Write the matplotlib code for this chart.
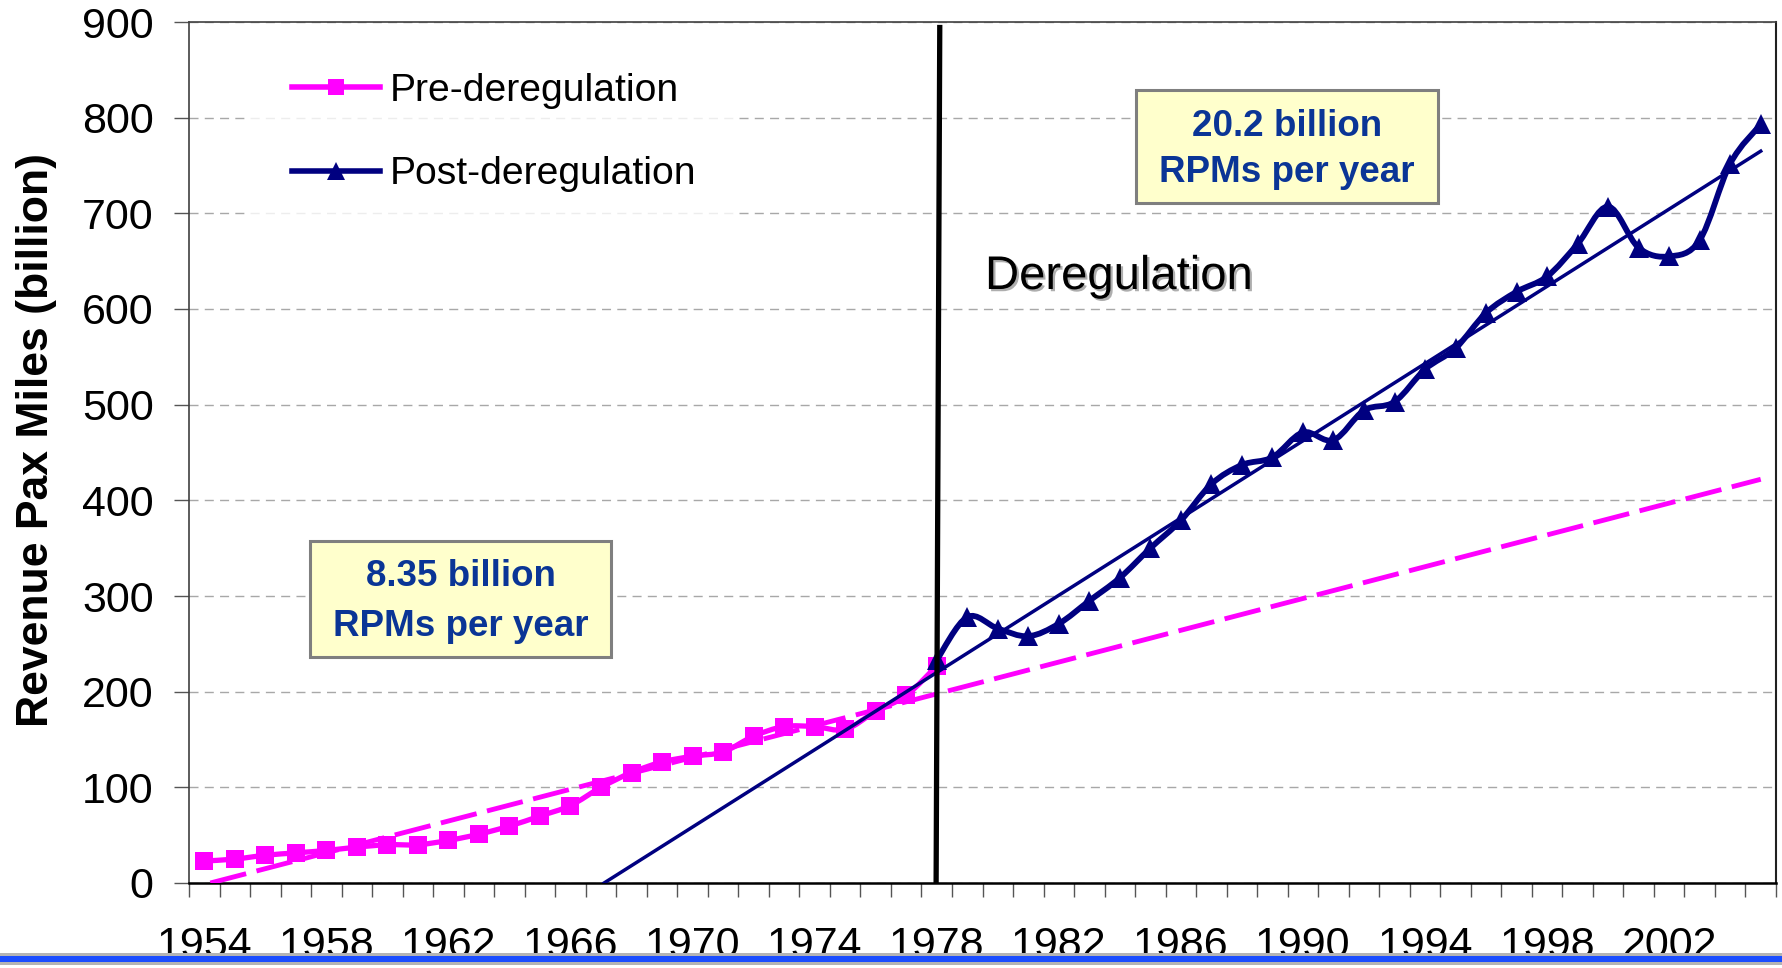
import matplotlib
matplotlib.use("Agg")
import matplotlib.pyplot as plt
import matplotlib.patheffects as pe
import numpy as np
from matplotlib.lines import Line2D
from matplotlib.patches import PathPatch, Rectangle
from matplotlib.path import Path

plt.rcParams["font.family"] = ["Liberation Sans", "DejaVu Sans"]

# --- data (billions of revenue passenger miles) ---
pre_years = [1954, 1955, 1956, 1957, 1958, 1959, 1960, 1961, 1962, 1963, 1964,
             1965, 1966, 1967, 1968, 1969, 1970, 1971, 1972, 1973, 1974, 1975,
             1976, 1977, 1978]
pre_rpm = [23, 25, 29, 31.5, 34, 37.5, 40, 40, 44.5, 51, 59.5,
           70, 81, 100, 115.5, 126.5, 132.5, 137, 153.5, 163.5, 163.5, 160.5,
           179.5, 196, 227]

post_years = [1978, 1979, 1980, 1981, 1982, 1983, 1984, 1985, 1986, 1987,
              1988, 1989, 1990, 1991, 1992, 1993, 1994, 1995, 1996, 1997,
              1998, 1999, 2000, 2001, 2002, 2003, 2004, 2005]
post_rpm = [233, 278, 266, 258, 271, 295, 319, 350, 379, 417,
            437, 445, 471, 463, 494, 503, 537, 559, 596, 618,
            634, 668, 707, 664, 655, 672, 752, 793]

# linear trend lines (end points)
pre_trend_x = [1954.2, 2005]
pre_trend_y = [0, 422]
post_trend_x = [1967.1, 2005]
post_trend_y = [0, 765]

dereg_x = [1977.98, 1978.1]
dereg_y = [0, 897]

year_labels = [1954, 1958, 1962, 1966, 1970, 1974, 1978, 1982, 1986, 1990,
               1994, 1998, 2002]
y_ticks = [0, 100, 200, 300, 400, 500, 600, 700, 800, 900]

PINK = "#ff00ff"
NAVY = "#000080"
BOX_TEXT = "#0a3596"

W, H = 1783, 968


def fx(x):
    return x / W


def fy(y):
    return 1 - y / H


def smooth_path(xs, ys):
    # Catmull-Rom style bezier through the points (like a spreadsheet "smoothed line")
    pts = np.column_stack([xs, ys]).astype(float)
    ext = np.vstack([pts[0], pts, pts[-1]])
    verts = [pts[0]]
    codes = [Path.MOVETO]
    for i in range(len(pts) - 1):
        p0, p1, p2, p3 = ext[i], ext[i + 1], ext[i + 2], ext[i + 3]
        verts += [p1 + (p2 - p0) / 6, p2 - (p3 - p1) / 6, p2]
        codes += [Path.CURVE4] * 3
    return Path(verts, codes)


fig = plt.figure(figsize=(W / 100, H / 100), dpi=100)
ax = fig.add_axes([fx(189), fy(883), 1587 / W, 861 / H])

ax.set_xlim(1953.5, 2005.5)
ax.set_ylim(0, 900)

# gridlines
ax.set_yticks(y_ticks)
ax.yaxis.grid(True, color="#a8a8a8", linewidth=1.0, linestyle=(0, (6.5, 4.5)))
ax.set_axisbelow(True)

# pre-deregulation series
ax.add_patch(PathPatch(smooth_path(pre_years, pre_rpm), facecolor="none",
                       edgecolor=PINK, lw=3.8, capstyle="round", joinstyle="round", zorder=3))
ax.plot(pre_years, pre_rpm, linestyle="none", marker="s", ms=13, color=PINK,
        markeredgewidth=0, zorder=3)
ax.plot(pre_trend_x, pre_trend_y, color=PINK, lw=3.5, linestyle=(0, (7.6, 2.2)), zorder=3)

# post-deregulation series
ax.plot(post_trend_x, post_trend_y, color=NAVY, lw=2.5, zorder=4)
ax.add_patch(PathPatch(smooth_path(post_years, post_rpm), facecolor="none",
                       edgecolor=NAVY, lw=4.2, capstyle="round", joinstyle="round", zorder=4))
ax.plot(post_years, post_rpm, linestyle="none", marker="^", ms=14.5, color=NAVY,
        markeredgewidth=0, zorder=4)

# deregulation marker line
ax.plot(dereg_x, dereg_y, color="black", lw=3.8, zorder=5, solid_capstyle="butt")

# axes styling
for side in ["left", "top"]:
    ax.spines[side].set_color("#404040")
    ax.spines[side].set_linewidth(1.2)
ax.spines["right"].set_color("#202020")
ax.spines["right"].set_linewidth(1.5)
ax.spines["bottom"].set_color("black")
ax.spines["bottom"].set_linewidth(1.8)

ax.set_xticks(np.arange(1953.5, 2006, 1.0))
ax.set_xticklabels([])
ax.set_xticks(year_labels, minor=True)
ax.set_xticklabels([str(y) for y in year_labels], minor=True)
ax.tick_params(axis="x", which="major", direction="out", length=10, width=1.0, color="#555555")
ax.tick_params(axis="x", which="minor", length=0, pad=31, labelsize=31)
ax.tick_params(axis="y", direction="out", length=10.5, width=1.0, color="#555555",
               pad=15, labelsize=31)

ax.set_ylabel("Revenue Pax Miles (billion)", fontsize=32, fontweight="bold")
ax.yaxis.set_label_coords((57 - 189) / 1587, (883 - 440) / 861)

# legend
handles = [
    Line2D([], [], color=PINK, lw=4.0, marker="s", ms=12, markeredgewidth=0),
    Line2D([], [], color=NAVY, lw=4.0, marker="^", ms=13, markeredgewidth=0),
]
leg = ax.legend(handles, ["Pre-deregulation", "Post-deregulation"],
                loc="upper left", bbox_to_anchor=(fx(250), fy(31)),
                bbox_transform=fig.transFigure, borderaxespad=0,
                fontsize=28.2, handlelength=2.25, handletextpad=0.26,
                labelspacing=1.21, borderpad=1.07, frameon=True,
                fancybox=False, numpoints=1)
leg.get_frame().set_facecolor("white")
leg.get_frame().set_edgecolor("none")
leg.set_zorder(6)

# text annotations
ax.text(fx(985), fy(277), "Deregulation", transform=fig.transFigure, fontsize=34,
        ha="left", va="center", color="black", zorder=6,
        path_effects=[pe.withSimplePatchShadow(offset=(1.6, -1.6), shadow_rgbFace="#8c8c8c", alpha=0.7)])

boxes = [
    (310, 541, 301, 116, ["8.35 billion", "RPMs per year"], 577, 50),
    (1136, 90, 302, 113, ["20.2 billion", "RPMs per year"], 127, 46),
]
for bx, by, bw, bh, lines, ty, dy in boxes:
    fig.add_artist(Rectangle((fx(bx), fy(by + bh)), bw / W, bh / H, transform=fig.transFigure,
                             facecolor="#ffffcc", edgecolor="#7f7f7f", lw=2.2, zorder=3))
    for i, line in enumerate(lines):
        fig.text(fx(bx + bw / 2), fy(ty + i * dy), line, fontsize=26.5, fontweight="bold",
                 color=BOX_TEXT, ha="center", va="center", zorder=4)

# bottom slide bar (drawn over the year labels)
fig.add_artist(Rectangle((0, fy(964.5)), 1, 12 / H, transform=fig.transFigure,
                         facecolor="#b4b4b4", edgecolor="none", zorder=10))
fig.add_artist(Rectangle((0, fy(962.3)), 1, 6.3 / H, transform=fig.transFigure,
                         facecolor="#1a4dff", edgecolor="none", zorder=11))

fig.savefig("out.png", dpi=100)
